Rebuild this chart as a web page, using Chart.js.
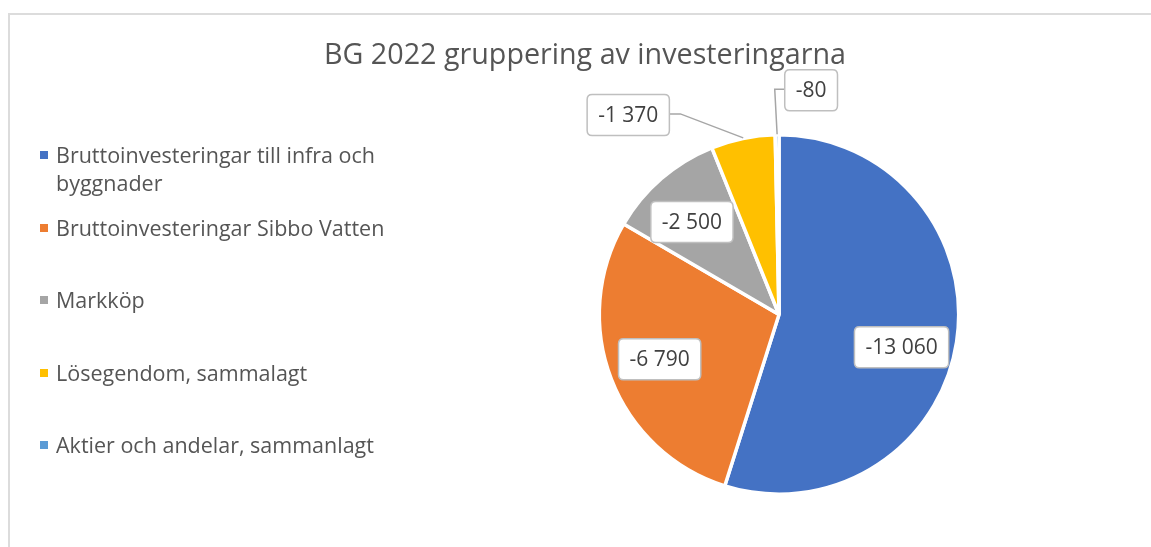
<!DOCTYPE html>
<html>
<head>
<meta charset="utf-8">
<script src="https://cdn.jsdelivr.net/npm/chart.js@4"></script>
<style>
  html, body { margin: 0; padding: 0; background: #fff; overflow: hidden; }
  #wrap { position: relative; width: 1151px; height: 547px; }
  #frame { position: absolute; left: 8px; top: 13px; width: 1200px; height: 600px;
           border-top: 2px solid #dcdcdc; border-left: 2px solid #dcdcdc; box-sizing: border-box; }
  canvas { position: absolute; left: 0; top: 0; }
  #title { position: absolute; left: 0; width: 1170px; top: 34px; text-align: center;
           font-family: 'Open Sans', sans-serif; font-size: 28.7px; line-height: 38px; color: #555555; }
  .lg-item { position: absolute; left: 56px; width: 345px; font-family: 'Open Sans', sans-serif;
             font-size: 21.5px; line-height: 28px; color: #555555; }
  .lg-mark { position: absolute; left: 40px; width: 8px; height: 8px; }
</style>
</head>
<body>
<div id="wrap">
  <div id="frame"></div>
  <canvas id="c" width="1151" height="547"></canvas>
  <div id="title"></div>
  <div id="legend"></div>
</div>
<script>
const chartTitle = 'BG 2022 gruppering av investeringarna';
const categories = [
  'Bruttoinvesteringar till infra och byggnader',
  'Bruttoinvesteringar Sibbo Vatten',
  'Markköp',
  'Lösegendom, sammalagt',
  'Aktier och andelar, sammanlagt'
];
const values = [-13060, -6790, -2500, -1370, -80];
const colors = ['#4472C4', '#ED7D31', '#A5A5A5', '#FFC000', '#5B9BD5'];

function fmt(v) {
  const s = Math.abs(v).toString().replace(/\B(?=(\d{3})+(?!\d))/g, ' ');
  return (v < 0 ? '-' : '') + s;
}

document.getElementById('title').textContent = chartTitle;

// HTML legend built from the categories and colours
const legendEl = document.getElementById('legend');
const firstBaseline = 163, step = 72.5;
categories.forEach((name, i) => {
  const base = firstBaseline + i * step;
  const t = document.createElement('div');
  t.className = 'lg-item';
  t.style.top = (base - 22) + 'px';
  t.textContent = name;
  legendEl.appendChild(t);
  const m = document.createElement('div');
  m.className = 'lg-mark';
  m.style.top = (base - 12) + 'px';
  m.style.background = colors[i];
  legendEl.appendChild(m);
});

// label placement styles (per slice)
const labelPlacement = [
  { mode: 'inside', r: 0.73, dx: -6, dy: 13 },
  { mode: 'inside', r: 0.73, dx: 2, dy: -2 },
  { mode: 'inside', r: 0.73, dx: -2, dy: 6 },
  { mode: 'outside', dx: -115, dy: -25 },
  { mode: 'outside', dx: 34, dy: -46 }
];

function roundRect(ctx, x, y, w, h, r) {
  ctx.beginPath();
  ctx.moveTo(x + r, y);
  ctx.lineTo(x + w - r, y);
  ctx.quadraticCurveTo(x + w, y, x + w, y + r);
  ctx.lineTo(x + w, y + h - r);
  ctx.quadraticCurveTo(x + w, y + h, x + w - r, y + h);
  ctx.lineTo(x + r, y + h);
  ctx.quadraticCurveTo(x, y + h, x, y + h - r);
  ctx.lineTo(x, y + r);
  ctx.quadraticCurveTo(x, y, x + r, y);
  ctx.closePath();
}

const dataLabelPlugin = {
  id: 'boxLabels',
  afterDatasetsDraw(chart) {
    const ctx = chart.ctx;
    const meta = chart.getDatasetMeta(0);
    const ds = chart.data.datasets[0];
    ctx.save();
    ctx.font = '21px "Open Sans", sans-serif';
    ctx.textAlign = 'center';
    ctx.textBaseline = 'middle';
    meta.data.forEach((arc, i) => {
      const p = arc.getProps(['x', 'y', 'startAngle', 'endAngle', 'outerRadius'], true);
      const mid = (p.startAngle + p.endAngle) / 2;
      const visR = p.outerRadius - 1.5;
      const pl = labelPlacement[i];
      const text = fmt(ds.data[i]);
      const tw = ctx.measureText(text).width;
      const bw = tw + 22, bh = 41;
      let cx, cy;
      if (pl.mode === 'inside') {
        cx = p.x + Math.cos(mid) * visR * pl.r + pl.dx;
        cy = p.y + Math.sin(mid) * visR * pl.r + pl.dy;
      } else {
        const ax = p.x + Math.cos(mid) * visR;
        const ay = p.y + Math.sin(mid) * visR;
        cx = ax + pl.dx;
        cy = ay + pl.dy;
        const near = cx < ax ? cx + bw / 2 : cx - bw / 2;
        const elbowX = cx < ax ? near + 11 : near - 10;
        ctx.beginPath();
        ctx.moveTo(ax, ay - 2);
        ctx.lineTo(elbowX, cy - 1);
        ctx.lineTo(near, cy - 1);
        ctx.strokeStyle = '#A6A6A6';
        ctx.lineWidth = 1.5;
        ctx.stroke();
      }
      roundRect(ctx, cx - bw / 2, cy - bh / 2, bw, bh, 5);
      ctx.fillStyle = '#FFFFFF';
      ctx.fill();
      ctx.strokeStyle = '#BFBFBF';
      ctx.lineWidth = 1.5;
      ctx.stroke();
      ctx.fillStyle = '#404040';
      ctx.fillText(text, cx, cy + 1);
    });
    ctx.restore();
  }
};

new Chart(document.getElementById('c'), {
  type: 'pie',
  data: {
    labels: categories,
    datasets: [{
      data: values,
      backgroundColor: colors,
      borderColor: '#FFFFFF',
      borderWidth: 3.5
    }]
  },
  options: {
    responsive: false,
    devicePixelRatio: 1,
    animation: false,
    radius: 179.7,
    layout: { padding: { left: 601, right: 194, top: 136, bottom: 54 } },
    plugins: {
      legend: { display: false },
      title: { display: false },
      tooltip: { enabled: false }
    },
    events: []
  },
  plugins: [dataLabelPlugin]
});
</script>
</body>
</html>
